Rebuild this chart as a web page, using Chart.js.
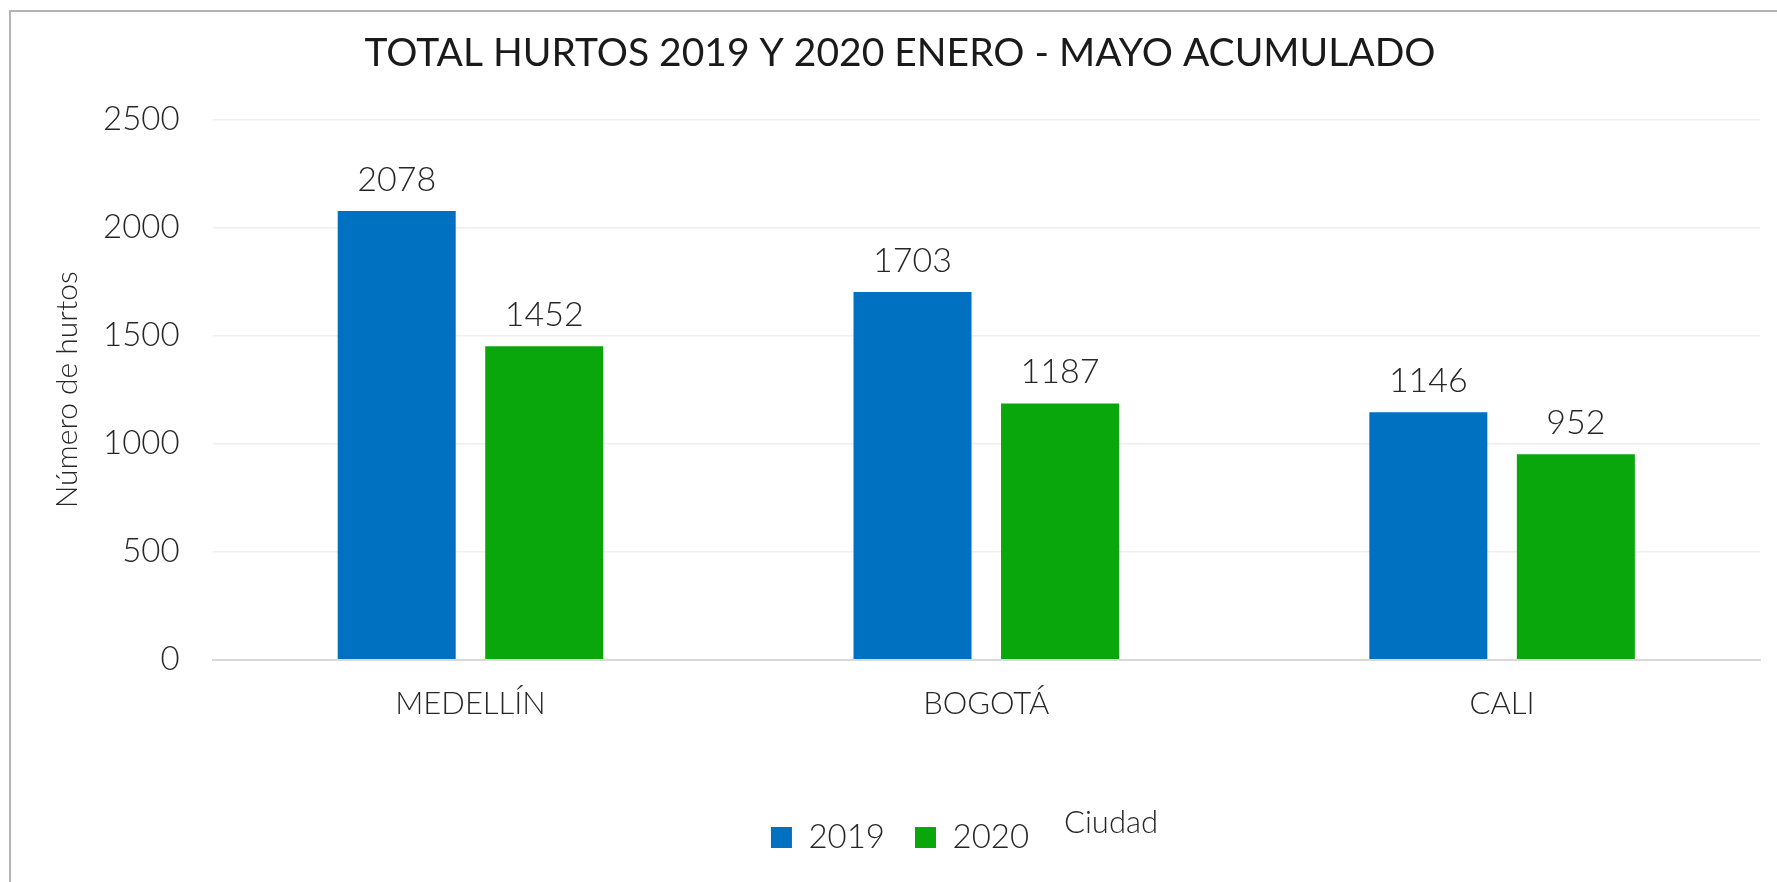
<!DOCTYPE html>
<html lang="es">
<head>
<meta charset="UTF-8">
<title>Total hurtos 2019 y 2020</title>
<script src="https://cdn.jsdelivr.net/npm/chart.js"></script>
<style>
  html, body { margin: 0; padding: 0; background: #fff; overflow: hidden; }
  #frame { position: absolute; left: 9px; top: 10px; width: 1800px; height: 900px; border: 2px solid #b4b4b4; box-sizing: border-box; }
  #wrap { position: absolute; left: 0; top: 0; width: 1777px; height: 882px; }
</style>
</head>
<body>
<div id="frame"></div>
<div id="wrap"><canvas id="chart"></canvas></div>
<script>
const ciudades = ['MEDELLÍN', 'BOGOTÁ', 'CALI'];
const hurtos2019 = [2078, 1703, 1146];
const hurtos2020 = [1452, 1187, 952];
const yTicks = [0, 500, 1000, 1500, 2000, 2500];

const FONT = "Lato, 'Open Sans', sans-serif";
const TXT = '#262626';

// value labels above the bars
const barLabels = {
  id: 'barLabels',
  afterDatasetsDraw(chart) {
    const ctx = chart.ctx;
    ctx.save();
    ctx.font = '300 34px ' + FONT;
    ctx.fillStyle = TXT;
    ctx.textAlign = 'center';
    ctx.textBaseline = 'bottom';
    chart.data.datasets.forEach((ds, i) => {
      chart.getDatasetMeta(i).data.forEach((bar, j) => {
        ctx.fillText(ds.data[j], bar.x, bar.y - 14);
      });
    });
    ctx.restore();
  }
};

// axis title "Ciudad" sits to the right of the legend
const ciudadTitle = {
  id: 'ciudadTitle',
  afterDraw(chart) {
    const ctx = chart.ctx;
    const lg = chart.legend;
    ctx.save();
    ctx.font = '300 31px ' + FONT;
    ctx.fillStyle = TXT;
    ctx.textAlign = 'left';
    ctx.textBaseline = 'middle';
    ctx.fillText('Ciudad', lg.left + lg.width / 2 + 164, lg.top + lg.height / 2 - 5);
    ctx.restore();
  }
};

new Chart(document.getElementById('chart'), {
  type: 'bar',
  data: {
    labels: ciudades,
    datasets: [
      { label: '2019', data: hurtos2019, backgroundColor: '#0070c0' },
      { label: '2020', data: hurtos2020, backgroundColor: '#09a70b' }
    ]
  },
  options: {
    responsive: true,
    maintainAspectRatio: false,
    animation: false,
    categoryPercentage: 0.572,
    barPercentage: 0.8,
    layout: { padding: { left: 40, right: 17, top: 0, bottom: 18 } },
    plugins: {
      title: {
        display: true,
        text: 'TOTAL HURTOS 2019 Y 2020 ENERO - MAYO ACUMULADO',
        color: '#1a1a1a',
        font: { family: FONT, size: 39, weight: '400' },
        padding: { top: 30, bottom: 43 }
      },
      legend: {
        position: 'bottom',
        labels: {
          color: TXT,
          font: { family: FONT, size: 33, weight: '300' },
          boxWidth: 21,
          boxHeight: 21,
          padding: 30
        }
      },
      tooltip: { enabled: false }
    },
    scales: {
      x: {
        grid: { display: false, drawTicks: false },
        border: { color: '#d9d9d9', width: 2 },
        ticks: { color: TXT, font: { family: FONT, size: 31, weight: '300' }, padding: 26 },
        afterFit(scale) { scale.height += 42; }
      },
      y: {
        min: 0,
        max: 2500,
        afterBuildTicks(scale) { scale.ticks = yTicks.map(v => ({ value: v })); },
        grid: { color: '#efefef', lineWidth: 1.5, drawTicks: false },
        border: { display: false },
        ticks: {
          color: TXT,
          font: { family: FONT, size: 33, weight: '300' },
          padding: 33,
          callback: v => String(v)
        },
        title: {
          display: true,
          text: 'Número de hurtos',
          color: TXT,
          font: { family: FONT, size: 30, weight: '300' },
          padding: { top: 9, bottom: -15 }
        }
      }
    }
  },
  plugins: [barLabels, ciudadTitle]
});
</script>
</body>
</html>
